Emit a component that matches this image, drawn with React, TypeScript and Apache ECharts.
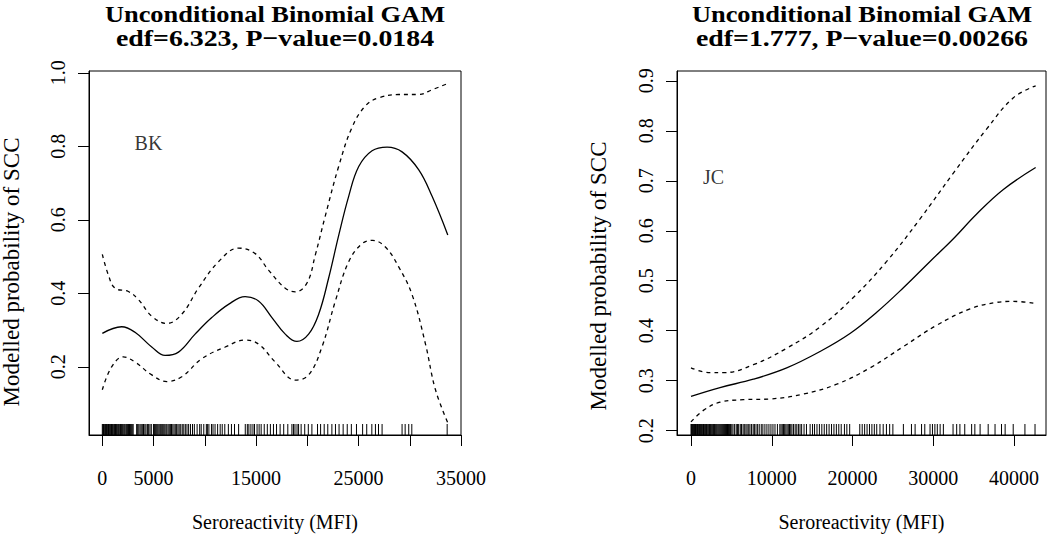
import React, { useEffect, useRef } from "react";
import * as echarts from "echarts";

// ---------- BK panel (left) ----------
const BK_FIT_X = [0, 1890, 3190, 4820, 6120, 7430, 9050, 10680, 12310, 13940, 15240, 16550, 17850, 18990, 20130, 21110, 22080, 23060, 24040, 25020, 26320, 27790, 29250, 30880, 32180, 33710];
const BK_FIT = [0.291, 0.309, 0.294, 0.254, 0.231, 0.240, 0.289, 0.334, 0.370, 0.391, 0.379, 0.334, 0.289, 0.269, 0.289, 0.343, 0.441, 0.557, 0.664, 0.745, 0.788, 0.798, 0.785, 0.736, 0.664, 0.559];
const BK_UP_X = [0, 590, 1240, 2540, 3520, 4820, 6290, 7750, 9380, 11340, 13290, 14920, 16220, 17850, 18830, 19970, 20780, 21760, 23060, 24370, 25670, 26970, 28920, 30880, 32180, 33710];
const BK_UP = [0.506, 0.45, 0.414, 0.405, 0.383, 0.338, 0.318, 0.343, 0.414, 0.486, 0.523, 0.508, 0.463, 0.414, 0.404, 0.428, 0.504, 0.611, 0.745, 0.852, 0.910, 0.932, 0.941, 0.941, 0.954, 0.971];
const BK_LO_X = [0, 910, 2050, 3190, 4820, 6290, 7750, 9710, 11990, 13940, 15240, 16870, 18830, 20130, 21430, 22740, 24040, 25340, 26380, 27620, 28920, 30230, 31530, 32510, 33710];
const BK_LO = [0.1375, 0.2, 0.227, 0.213, 0.178, 0.16, 0.173, 0.222, 0.254, 0.273, 0.262, 0.213, 0.164, 0.178, 0.254, 0.379, 0.486, 0.535, 0.544, 0.526, 0.472, 0.396, 0.2625, 0.1375, 0.048];
const BK_RUG = [
  0, 60, 120, 180, 250, 320, 400, 460, 530, 600, 680, 750, 820, 900, 980, 1050, 1130, 1200, 1290, 1370, 1450, 1530, 1600, 1700, 1780, 1860, 1950, 2030, 2120, 2200, 2300, 2380, 2470, 2560, 2650, 2740, 2830, 2920, 3010,
  3350, 3450, 3560, 3680, 3790, 3900, 4020, 4150, 4260, 4400, 4520, 4650, 4780,
  4990, 5080, 5170, 5260, 5350, 5440, 5540, 5640, 5720, 5810, 5900, 6000, 6100, 6210, 6300, 6420, 6530, 6640, 6750, 6880, 7000, 7120, 7250, 7380, 7500, 7650, 7800, 7950, 8100, 8260, 8420, 8600, 8800, 8980,
  9250, 9500, 9650, 9900, 10150, 10250, 10400, 10650, 10800, 11000, 11250, 11500, 11700, 11950, 12300, 12600, 12900, 13300,
  13950, 14150, 14300, 14500, 14700, 14850, 15100, 15300, 15500, 15800, 16100, 16400, 16700, 17000, 17350, 17700, 18100,
  18500, 18650, 18800, 19000, 19150, 19400, 19750,
  20100, 20450, 21000, 21300, 21650, 22000, 22400, 22750, 23100, 23500, 23900, 24300, 24800, 25400, 25800, 26300, 26650, 26950, 27300,
  29250, 29550, 29900, 30200, 33650,
];
const BK_X_TICKS = [0, 5000, 10000, 15000, 20000, 25000, 30000, 35000];
const BK_X_LABELS = [0, 5000, 15000, 25000, 35000];
const BK_Y_TICKS = [0.2, 0.4, 0.6, 0.8, 1.0];

// ---------- JC panel (right) ----------
const JC_FIT_X = [0, 3590, 7720, 11850, 15980, 19690, 23000, 26300, 29600, 32490, 35380, 38680, 42680];
const JC_FIT = [0.2688, 0.2864, 0.303, 0.3257, 0.3585, 0.3945, 0.437, 0.486, 0.5386, 0.584, 0.6335, 0.6826, 0.7265];
const JC_UP_X = [0, 2350, 4000, 7720, 11850, 15980, 20100, 24230, 28360, 32490, 36620, 39920, 42680];
const JC_UP = [0.3257, 0.316, 0.316, 0.332, 0.365, 0.4076, 0.4665, 0.5386, 0.6237, 0.7154, 0.8038, 0.866, 0.89];
const JC_LO_X = [0, 1530, 3590, 6480, 9780, 13910, 18040, 22170, 26300, 30420, 34550, 37850, 39920, 42680];
const JC_LO = [0.2177, 0.2406, 0.257, 0.262, 0.2635, 0.2733, 0.293, 0.3257, 0.3683, 0.4109, 0.4436, 0.4567, 0.4587, 0.4547];
const JC_RUG = [
  0, 70, 140, 210, 280, 350, 420, 490, 560, 640, 720, 800, 880, 960, 1040, 1120, 1200, 1280, 1370, 1460, 1550, 1640, 1730, 1820, 1910, 2000, 2100, 2200, 2300, 2400, 2500, 2600, 2700, 2800, 2900, 3000, 3100, 3200, 3320, 3440, 3560, 3680, 3800, 3920, 4040, 4160, 4280, 4400, 4520, 4650, 4780, 4900, 5050, 5200,
  5400, 5600, 5750, 5900, 6100, 6250, 6450, 6600, 6800, 6950, 7150, 7300, 7500, 7700, 7850, 8050, 8250, 8450, 8700, 8900, 9150, 9400, 9650,
  9900, 10150, 10400, 10700, 11000, 11150, 11300, 11450, 11600, 11750, 11900, 12050, 12200, 12350, 12500, 12700, 12900, 13100, 13300, 13500, 13700, 14000, 14300,
  14750, 15050, 15300, 15600, 15900, 16200, 16500, 16800, 17100, 17400, 17700, 18000, 18300, 18600, 19000, 19300, 19650,
  20900, 21200, 21500, 21800, 22100, 22400, 22700, 23000, 23400, 23800, 24200, 24600, 25000,
  26300, 27300, 27750, 28550, 28950, 29600, 29900, 30200, 30500, 30850, 31250, 32450, 32900, 33300, 33900, 34750, 35150, 35800, 36800, 37650, 38450, 38900, 39900, 41350, 42600,
];
const JC_X_TICKS = [0, 10000, 20000, 30000, 40000];
const JC_Y_TICKS = [0.2, 0.3, 0.4, 0.5, 0.6, 0.7, 0.8, 0.9];

const TITLE_1 = "Unconditional Binomial GAM";
const BK_SUB = "edf=6.323, P\u2212value=0.0184";
const JC_SUB = "edf=1.777, P\u2212value=0.00266";
const X_NAME = "Seroreactivity (MFI)";
const Y_NAME = "Modelled probability of SCC";

const FONT = "'Liberation Serif', 'Times New Roman', serif";

const zip = (xs: number[], ys: number[]) => xs.map((x, i) => [x, ys[i]]);

const RANGES = [
  { xMin: -1300, xMax: 35000, yMin: 0.0145, yMax: 1.005 },
  { xMin: -1734, xMax: 43960, yMin: 0.1914, yMax: 0.9196 },
];

export default function App() {
  const ref = useRef<HTMLDivElement>(null);
  useEffect(() => {
    if (!ref.current) return;
    const chart = echarts.init(ref.current, undefined, { renderer: "svg" });

    const xAxis = (i: number, ticks: number[], labels: number[]) => ({
      gridIndex: i,
      type: "value",
      position: "bottom",
      min: RANGES[i].xMin,
      max: RANGES[i].xMax,
      splitLine: { show: false },
      axisLine: { show: true, onZero: false, lineStyle: { color: "#000", width: 1 } },
      axisTick: { show: true, inside: false, length: 11, customValues: ticks, lineStyle: { color: "#000", width: 1 } },
      axisLabel: { customValues: labels, margin: 33, color: "#000", fontFamily: FONT, fontSize: 20, formatter: (v: number) => String(Math.round(v)) },
      name: X_NAME,
      nameLocation: "middle",
      nameGap: 77,
      nameTextStyle: { color: "#000", fontFamily: FONT, fontSize: 20 },
    });
    const yAxis = (i: number, ticks: number[], margin: number) => ({
      gridIndex: i,
      type: "value",
      position: "left",
      min: RANGES[i].yMin,
      max: RANGES[i].yMax,
      splitLine: { show: false },
      axisLine: { show: true, onZero: false, lineStyle: { color: "#000", width: 1 } },
      axisTick: { show: true, inside: false, length: 11, customValues: ticks, lineStyle: { color: "#000", width: 1 } },
      axisLabel: { customValues: ticks, rotate: 90, margin, color: "#000", fontFamily: FONT, fontSize: 20, formatter: (v: number) => v.toFixed(1) },
    });

    const lineSeries = (i: number, data: number[][], dashed: boolean) => ({
      type: "line",
      xAxisIndex: i,
      yAxisIndex: i,
      data,
      smooth: 0.4,
      showSymbol: false,
      symbol: "none",
      lineStyle: { color: "#000", width: 1.3, type: dashed ? [4, 4] : "solid" },
      silent: true,
    });
    const rugSeries = (i: number, values: number[]) => ({
      type: "custom",
      xAxisIndex: i,
      yAxisIndex: i,
      data: values.map((v) => [v, RANGES[i].yMin]),
      renderItem: (_p: any, api: any) => {
        const p = api.coord([api.value(0), api.value(1)]);
        return {
          type: "line",
          shape: { x1: p[0], y1: p[1], x2: p[0], y2: p[1] - 11 },
          style: { stroke: "#000", lineWidth: 1 },
        };
      },
      silent: true,
    });
    const tagSeries = (i: number, x: number, y: number, text: string) => ({
      type: "scatter",
      xAxisIndex: i,
      yAxisIndex: i,
      symbolSize: 0,
      data: [{ value: [x, y], name: text }],
      label: { show: true, position: "inside", formatter: "{b}", color: "#000", fontFamily: FONT, fontSize: 20 },
      silent: true,
    });

    const txt = (text: string, x: number, y: number, font: string, extra: any = {}) => ({
      type: "text",
      x,
      y,
      silent: true,
      ...extra,
      style: { text, font, fill: "#000", textAlign: "center", verticalAlign: "middle", textVerticalAlign: "middle" },
    });
    const TFONT = "bold 24px 'Liberation Serif', serif";
    const YFONT = "23px 'Liberation Serif', serif";

    chart.setOption({
      animation: false,
      backgroundColor: "#fff",
      graphic: [
        txt(TITLE_1, 275, 13.5, TFONT, { scaleX: 1.1 }),
        txt(BK_SUB, 275, 38.5, TFONT, { scaleX: 1.16 }),
        txt(TITLE_1, 862, 13.5, TFONT, { scaleX: 1.1 }),
        txt(JC_SUB, 862, 38.5, TFONT, { scaleX: 1.16 }),
        txt(Y_NAME, 11, 272, YFONT, { rotation: Math.PI / 2 }),
        txt(Y_NAME, 598, 276, YFONT, { rotation: Math.PI / 2 }),
      ],
      grid: [
        { left: 89, top: 71, width: 372, height: 370, show: true, borderColor: "#000", borderWidth: 1, backgroundColor: "transparent" },
        { left: 677, top: 71, width: 369, height: 371, show: true, borderColor: "#000", borderWidth: 1, backgroundColor: "transparent" },
      ],
      xAxis: [xAxis(0, BK_X_TICKS, BK_X_LABELS), xAxis(1, JC_X_TICKS, JC_X_TICKS)],
      yAxis: [yAxis(0, BK_Y_TICKS, 21), yAxis(1, JC_Y_TICKS, 21)],
      series: [
        lineSeries(0, zip(BK_FIT_X, BK_FIT), false),
        lineSeries(0, zip(BK_UP_X, BK_UP), true),
        lineSeries(0, zip(BK_LO_X, BK_LO), true),
        rugSeries(0, BK_RUG),
        tagSeries(0, 4500, 0.81, "BK"),
        lineSeries(1, zip(JC_FIT_X, JC_FIT), false),
        lineSeries(1, zip(JC_UP_X, JC_UP), true),
        lineSeries(1, zip(JC_LO_X, JC_LO), true),
        rugSeries(1, JC_RUG),
        tagSeries(1, 2800, 0.708, "JC"),
      ],
    });
    return () => chart.dispose();
  }, []);
  return <div ref={ref} style={{ position: "fixed", left: 0, top: 0, width: 1050, height: 537, background: "#fff" }} />;
}
